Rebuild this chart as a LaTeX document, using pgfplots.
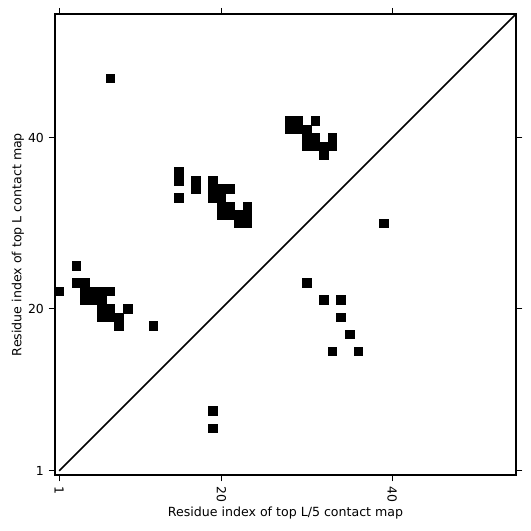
\documentclass[border=0pt]{standalone}
\usepackage{fontspec}
\setmainfont{DejaVu Sans}
\usepackage{pgfplots}
\pgfplotsset{compat=1.18}
\usetikzlibrary{calc}
\begin{document}
\begin{tikzpicture}
\begin{axis}[name=ax, width=332bp, height=332bp, scale only axis,
 xmin=0.5, xmax=54.5, ymin=0.5, ymax=54.5,
 xtick={1,20,40}, ytick={1,20,40},
 tick pos=both, tick align=outside,
 major tick length=4.5bp,
 xticklabel style={rotate=-90, anchor=west},
 /pgf/number format/assume math mode=true,
 tick label style={font=\fontsize{9}{11}\selectfont},
 label style={font=\fontsize{9.1}{11}\selectfont},
 xlabel={Residue index of top L/5 contact map},
 ylabel={Residue index of top L contact map},
 xlabel style={yshift=3bp},
 ylabel style={yshift=-4bp},
 axis line style={line width=1.3bp},
 every tick/.style={black, line width=0.8bp},
]
\addplot[only marks, mark=square*, mark size=3.08bp, mark options={draw=none, fill=black}] coordinates {
(1,22)
(3,25)
(3,23) (4,23)
(4,22) (5,22) (6,22) (7,22)
(4,21) (5,21) (6,21)
(6,20) (7,20) (9,20)
(6,19) (7,19) (8,19)
(8,18) (12,18)
(7,47)
(15,36) (15,35) (15,33)
(17,35) (17,34)
(19,35) (19,34) (19,33) (20,34) (21,34) (20,33)
(20,32) (21,32) (23,32)
(20,31) (21,31) (22,31) (23,31)
(22,30) (23,30)
(19,8) (19,6)
(28,42) (29,42) (31,42)
(28,41) (29,41) (30,41)
(30,40) (31,40) (33,40)
(30,39) (31,39) (32,39) (33,39)
(32,38)
(39,30)
(30,23) (32,21) (34,21) (34,19) (35,17) (33,15) (36,15)
};
\addplot[black, line width=1.2bp] coordinates {(1,1) (54.5,54.5)};
\end{axis}
\pgfresetboundingbox
\path ($(ax.south west)+(-39.6bp,-39.6bp)$) rectangle ($(ax.north east)+(10.8bp,10.1bp)$);
\end{tikzpicture}
\end{document}
